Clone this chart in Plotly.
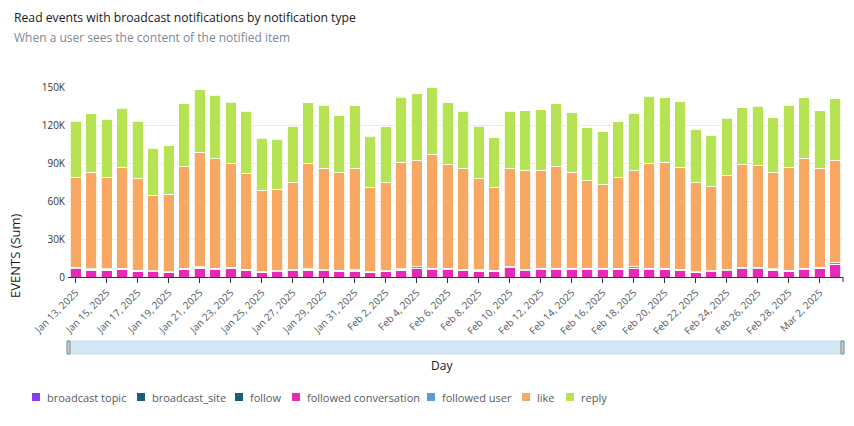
import plotly.graph_objects as go
import pandas as pd

days = pd.date_range("2025-01-13", "2025-03-03", freq="D").strftime("%Y-%m-%d").tolist()

followed_conversation = [6.6, 5.5, 5.5, 6.0, 4.5, 4.2, 3.4, 6.0, 6.8, 5.8, 6.8, 5.3, 3.7, 4.2, 5.0,
                         5.5, 5.0, 4.5, 4.7, 3.7, 4.0, 5.5, 7.1, 5.8, 5.8, 5.3, 4.7, 4.5, 7.4, 5.0,
                         5.8, 5.8, 5.8, 5.8, 5.8, 6.0, 7.1, 5.8, 6.0, 5.3, 3.4, 4.2, 5.0, 6.6, 6.6,
                         5.5, 4.5, 5.8, 6.8, 10.2]
followed_user = [0.8, 0.7, 0.7, 0.8, 0.7, 0.6, 0.5, 0.8, 0.9, 0.9, 0.8, 0.7, 0.5, 0.6, 0.7,
                 0.8, 0.7, 0.7, 0.7, 0.5, 0.6, 0.8, 0.9, 0.9, 0.8, 0.7, 0.7, 0.6, 0.8, 0.7,
                 0.8, 0.8, 0.8, 0.8, 0.8, 0.8, 0.9, 0.8, 0.8, 0.8, 0.5, 0.6, 0.7, 0.8, 0.8,
                 0.7, 0.7, 0.8, 0.8, 0.9]
broadcast_topic = [0.1, 0.1, 0.1, 0.1, 0.1, 0.1, 0.1, 0.1, 0.1, 0.1, 0.1, 0.1, 0.1, 0.1, 0.1,
                   0.1, 0.1, 0.1, 0.1, 0.1, 0.1, 0.1, 0.1, 0.1, 0.1, 0.1, 0.1, 0.1, 0.1, 0.1,
                   0.1, 0.1, 0.1, 0.1, 0.1, 0.1, 0.1, 0.1, 0.1, 0.1, 0.1, 0.1, 0.1, 0.1, 0.1,
                   0.1, 0.1, 0.1, 0.1, 0.1]
broadcast_site = [0.05, 0.04, 0.04, 0.05, 0.04, 0.03, 0.03, 0.05, 0.05, 0.05, 0.05, 0.04, 0.03, 0.03, 0.04,
                  0.05, 0.05, 0.04, 0.05, 0.03, 0.04, 0.05, 0.05, 0.05, 0.05, 0.04, 0.04, 0.03, 0.04, 0.04,
                  0.04, 0.05, 0.04, 0.04, 0.03, 0.04, 0.04, 0.05, 0.05, 0.05, 0.03, 0.03, 0.04, 0.05, 0.05,
                  0.04, 0.05, 0.05, 0.04, 0.05]
follow = [0.05, 0.05, 0.05, 0.05, 0.05, 0.04, 0.04, 0.05, 0.05, 0.05, 0.05, 0.05, 0.04, 0.04, 0.05,
          0.05, 0.05, 0.05, 0.05, 0.04, 0.04, 0.05, 0.05, 0.05, 0.05, 0.05, 0.05, 0.04, 0.05, 0.05,
          0.05, 0.05, 0.05, 0.05, 0.04, 0.05, 0.05, 0.05, 0.05, 0.05, 0.04, 0.04, 0.05, 0.05, 0.05,
          0.05, 0.05, 0.05, 0.05, 0.05]
like = [71.2, 76.2, 71.8, 79.2, 72.0, 59.7, 61.3, 79.9, 90.7, 86.4, 81.5, 75.9, 64.1, 64.4, 68.9,
        83.1, 79.9, 77.0, 79.7, 66.5, 69.6, 84.1, 83.6, 90.1, 81.7, 79.3, 71.8, 65.7, 77.0, 77.8,
        77.5, 80.7, 75.9, 69.1, 66.0, 71.3, 75.7, 83.0, 83.4, 80.4, 70.5, 66.2, 74.4, 80.9, 80.7,
        76.0, 81.4, 87.0, 78.1, 81.0]
reply = [44.1, 46.3, 46.2, 47.0, 45.4, 36.8, 38.1, 49.7, 49.4, 50.2, 48.6, 48.6, 41.0, 39.4, 44.1,
         47.8, 49.6, 44.9, 49.9, 40.4, 44.4, 51.5, 53.0, 52.8, 48.9, 45.2, 41.5, 38.8, 45.4, 47.5,
         47.6, 49.4, 47.1, 41.8, 42.0, 44.1, 45.4, 52.8, 51.2, 51.5, 42.0, 40.8, 44.9, 45.2, 46.5,
         43.3, 48.6, 47.8, 45.4, 48.6]

y_tickvals = [0, 30000, 60000, 90000, 120000, 150000]
y_ticktext = ["0", "30K", "60K", "90K", "120K", "150K"]

legend_names = ["broadcast topic", "broadcast_site", "follow", "followed conversation",
                "followed user", "like", "reply"]
legend_colors = ["#8c3cf0", "#1f5f75", "#1f5f75", "#e52bb5", "#5a9be0", "#f9a864", "#b6e353"]

# (name, values in thousands, color) - drawn bottom to top
series = [
    ("followed conversation", followed_conversation, "#e52bb5"),
    ("followed user", followed_user, "#5a9be0"),
    ("broadcast topic", broadcast_topic, "#8c3cf0"),
    ("broadcast_site", broadcast_site, "#1f5f75"),
    ("follow", follow, "#1f5f75"),
    ("like", like, "#f9a864"),
    ("reply", reply, "#b6e353"),
]

fig = go.Figure()
for name, vals, color in series:
    fig.add_trace(go.Bar(
        x=days, y=[v * 1000 for v in vals], name=name,
        marker=dict(color=color, line=dict(color="white", width=0.8)),
        showlegend=False,
    ))

FONT = "Open Sans, Noto Sans, sans-serif"
L, T, PW, PH = 68, 87, 775, 190


def px(x):
    return (x - L) / PW


def py(y):
    return (T + PH - y) / PH


annotations = [
    dict(text="Read events with broadcast notifications by notification type",
         xref="paper", yref="paper", x=px(12), y=py(17),
         xanchor="left", yanchor="middle", showarrow=False,
         font=dict(size=12.2, color="#16191f", family=FONT)),
    dict(text="When a user sees the content of the notified item",
         xref="paper", yref="paper", x=px(12), y=py(37),
         xanchor="left", yanchor="middle", showarrow=False,
         font=dict(size=12, color="#7d8998", family=FONT)),
    dict(text="EVENTS (Sum)", xref="paper", yref="paper",
         x=px(15), y=py(256), textangle=-90,
         xanchor="center", yanchor="middle", showarrow=False,
         font=dict(size=13, color="#16191f", family=FONT)),
    dict(text="Day", xref="paper", yref="paper",
         x=px(442), y=py(365),
         xanchor="center", yanchor="middle", showarrow=False,
         font=dict(size=12, color="#16191f", family=FONT)),
]
shapes = [
    dict(type="rect", xref="paper", yref="paper", x0=0, x1=1,
         y0=py(354), y1=py(341),
         fillcolor="#d2e9f5", line=dict(color="#c5dfec", width=1), layer="below"),
    dict(type="rect", xref="paper", yref="paper", x0=px(67), x1=px(70),
         y0=py(354), y1=py(341),
         fillcolor="#c9cfd4", line=dict(color="#7d8590", width=1)),
    dict(type="rect", xref="paper", yref="paper", x0=px(841), x1=px(844),
         y0=py(354), y1=py(341),
         fillcolor="#c9cfd4", line=dict(color="#7d8590", width=1)),
    dict(type="line", xref="paper", yref="paper", x0=1, x1=1,
         y0=0, y1=py(282), line=dict(color="#333333", width=1)),
]

# legend drawn as squares + labels
legend_x = [32, 137, 235, 292, 427, 522, 566]
for lx, name, color in zip(legend_x, legend_names, legend_colors):
    shapes.append(dict(type="rect", xref="paper", yref="paper",
                       x0=px(lx), x1=px(lx + 8), y0=py(401), y1=py(393),
                       fillcolor=color, line=dict(width=0)))
    annotations.append(dict(text=name, xref="paper", yref="paper",
                            x=px(lx + 13), y=py(397), xanchor="left", yanchor="middle",
                            showarrow=False, font=dict(size=11, color="#545b64", family=FONT)))

fig.update_layout(
    barmode="stack",
    bargap=0.28,
    width=854, height=426,
    margin=dict(l=L, r=854 - L - PW, t=T, b=426 - T - PH),
    paper_bgcolor="white", plot_bgcolor="white",
    font=dict(family=FONT, size=10, color="#545b64"),
    showlegend=False,
    xaxis=dict(
        type="date",
        range=["2025-01-12 12:00", "2025-03-03 12:00"],
        tick0="2025-01-13", dtick=2 * 86400000,
        tickformat="%b %-d, %Y", tickangle=-45,
        ticks="outside", ticklen=5, tickcolor="#333333",
        showline=True, linecolor="#333333", linewidth=1,
        showgrid=False, tickfont=dict(size=10, color="#545b64"),
    ),
    yaxis=dict(
        range=[0, 150000], tickvals=y_tickvals, ticktext=y_ticktext,
        showgrid=True, gridcolor="#e9ebed", zeroline=False, showline=False,
        tickfont=dict(size=10, color="#333333"), ticks="", ticklabelstandoff=2,
    ),
    annotations=annotations,
    shapes=shapes,
)

fig.write_html("out.html", config={"displayModeBar": False},
               post_script="document.body.style.margin='0px';document.body.style.overflow='hidden';")
